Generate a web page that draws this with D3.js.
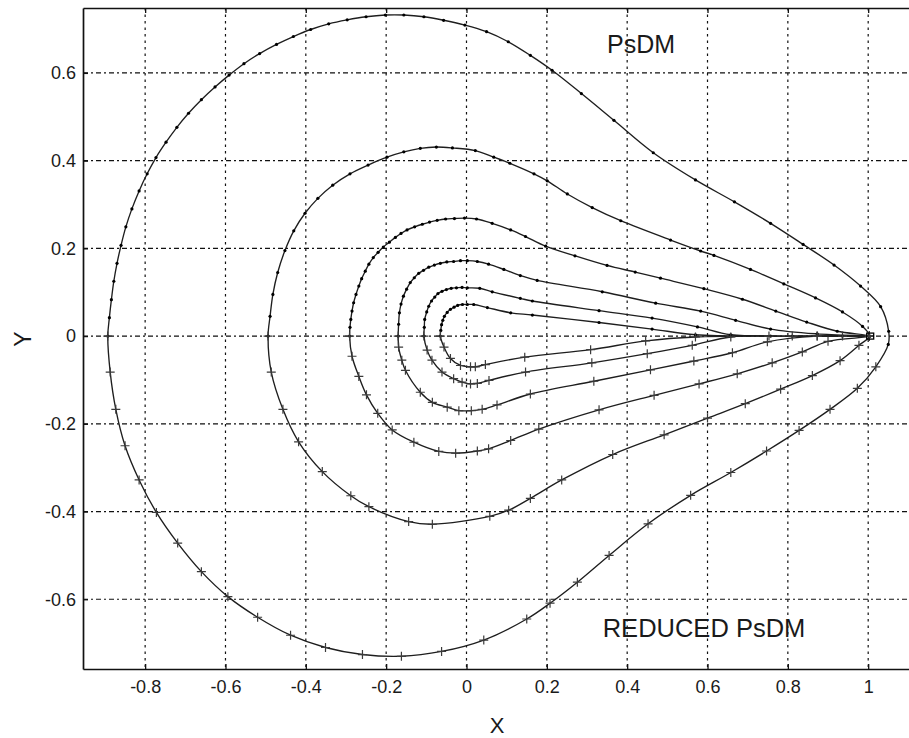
<!DOCTYPE html>
<html>
<head>
<meta charset="utf-8">
<script src="https://cdn.jsdelivr.net/npm/d3@7"></script>
<style>
  body { margin: 0; background: #fff; }
  svg { display: block; }
  text { font-family: "Liberation Sans", Arial, Helvetica, sans-serif; fill: #1a1a1a; }
</style>
</head>
<body>
<svg id="chart" width="909" height="738"></svg>
<script>
// Axis ticks
const xTicks = [-0.8, -0.6, -0.4, -0.2, 0, 0.2, 0.4, 0.6, 0.8, 1];
const yTicks = [-0.6, -0.4, -0.2, 0, 0.2, 0.4, 0.6];
const xTickLabels = ["-0.8", "-0.6", "-0.4", "-0.2", "0", "0.2", "0.4", "0.6", "0.8", "1"];
const yTickLabels = ["-0.6", "-0.4", "-0.2", "0", "0.2", "0.4", "0.6"];

// Upper halves: PsDM solution (dot markers), from the left crossing to the tip
const psdm1 = [[-0.893,0.000],[-0.889,0.042],[-0.884,0.083],[-0.878,0.125],[-0.870,0.166],[-0.860,0.207],[-0.848,0.249],[-0.833,0.290],[-0.815,0.331],[-0.795,0.370],[-0.773,0.407],[-0.748,0.442],[-0.721,0.476],[-0.692,0.508],[-0.660,0.539],[-0.626,0.568],[-0.591,0.595],[-0.554,0.621],[-0.515,0.644],[-0.473,0.665],[-0.431,0.683],[-0.388,0.699],[-0.343,0.712],[-0.297,0.721],[-0.250,0.728],[-0.202,0.732],[-0.156,0.732],[-0.106,0.728],[-0.057,0.720],[-0.004,0.709],[0.050,0.694],[0.104,0.671],[0.159,0.640],[0.213,0.606],[0.286,0.553],[0.367,0.492],[0.465,0.418],[0.570,0.356],[0.667,0.306],[0.757,0.257],[0.838,0.209],[0.915,0.162],[0.981,0.114],[1.031,0.067],[1.051,0.011],[1.050,-0.019]];
const psdm2 = [[-0.494,0.000],[-0.489,0.045],[-0.482,0.095],[-0.470,0.145],[-0.452,0.195],[-0.430,0.240],[-0.402,0.280],[-0.370,0.314],[-0.333,0.344],[-0.290,0.370],[-0.245,0.390],[-0.198,0.408],[-0.156,0.420],[-0.115,0.428],[-0.075,0.431],[-0.035,0.429],[0.022,0.423],[0.068,0.408],[0.108,0.394],[0.168,0.370],[0.201,0.354],[0.251,0.324],[0.313,0.293],[0.384,0.263],[0.508,0.219],[0.583,0.194],[0.616,0.184],[0.707,0.152],[0.790,0.119],[0.869,0.087],[0.936,0.055],[0.986,0.022],[1.003,0.000]];
const psdm3 = [[-0.291,0.000],[-0.290,0.020],[-0.288,0.038],[-0.285,0.057],[-0.281,0.076],[-0.275,0.095],[-0.268,0.114],[-0.261,0.131],[-0.252,0.148],[-0.243,0.164],[-0.232,0.179],[-0.220,0.191],[-0.207,0.203],[-0.192,0.214],[-0.177,0.225],[-0.163,0.234],[-0.148,0.242],[-0.129,0.249],[-0.110,0.255],[-0.092,0.260],[-0.073,0.264],[-0.052,0.267],[-0.030,0.268],[-0.005,0.269],[0.025,0.267],[0.064,0.257],[0.110,0.242],[0.147,0.227],[0.197,0.205],[0.270,0.183],[0.350,0.161],[0.420,0.146],[0.483,0.132],[0.591,0.108],[0.687,0.084],[0.770,0.057],[0.847,0.032],[0.923,0.011],[1.003,0.000]];
const psdm4 = [[-0.170,0.000],[-0.169,0.027],[-0.167,0.053],[-0.163,0.073],[-0.157,0.091],[-0.149,0.107],[-0.140,0.122],[-0.130,0.133],[-0.119,0.143],[-0.107,0.150],[-0.094,0.157],[-0.080,0.162],[-0.065,0.166],[-0.049,0.169],[-0.032,0.170],[-0.015,0.172],[0.002,0.172],[0.027,0.170],[0.055,0.164],[0.093,0.152],[0.134,0.138],[0.176,0.127],[0.338,0.101],[0.471,0.075],[0.583,0.057],[0.670,0.036],[0.757,0.016],[0.873,0.005],[1.003,0.000]];
const psdm5 = [[-0.106,0.000],[-0.105,0.020],[-0.104,0.038],[-0.099,0.055],[-0.094,0.068],[-0.087,0.080],[-0.079,0.089],[-0.071,0.097],[-0.061,0.102],[-0.050,0.106],[-0.038,0.109],[-0.025,0.110],[-0.011,0.111],[0.002,0.110],[0.033,0.109],[0.064,0.101],[0.134,0.086],[0.164,0.080],[0.330,0.058],[0.462,0.041],[0.575,0.021],[0.658,0.003],[0.811,0.000],[1.003,0.000]];
const psdm6 = [[-0.065,0.000],[-0.064,0.013],[-0.062,0.026],[-0.059,0.036],[-0.055,0.045],[-0.048,0.054],[-0.040,0.061],[-0.031,0.066],[-0.022,0.070],[-0.010,0.072],[0.002,0.072],[0.018,0.072],[0.052,0.065],[0.110,0.053],[0.164,0.048],[0.330,0.031],[0.462,0.016],[0.570,0.003],[0.757,0.000],[0.936,0.000],[1.003,0.000]];

// Lower halves: reduced PsDM solution (plus markers), from the left crossing to the tip
const reduced1 = [[-0.893,0.000],[-0.887,-0.082],[-0.873,-0.167],[-0.850,-0.250],[-0.815,-0.328],[-0.772,-0.402],[-0.719,-0.472],[-0.660,-0.537],[-0.594,-0.594],[-0.520,-0.641],[-0.438,-0.682],[-0.351,-0.710],[-0.259,-0.726],[-0.162,-0.730],[-0.062,-0.719],[0.043,-0.693],[0.150,-0.645],[0.208,-0.609],[0.276,-0.561],[0.355,-0.500],[0.452,-0.428],[0.558,-0.363],[0.658,-0.311],[0.747,-0.262],[0.828,-0.215],[0.905,-0.167],[0.973,-0.119],[1.019,-0.070]];
const reduced2 = [[-0.494,0.000],[-0.486,-0.082],[-0.457,-0.167],[-0.418,-0.241],[-0.359,-0.309],[-0.288,-0.364],[-0.243,-0.389],[-0.144,-0.423],[-0.085,-0.429],[0.058,-0.411],[0.105,-0.397],[0.159,-0.370],[0.237,-0.328],[0.364,-0.270],[0.492,-0.225],[0.600,-0.187],[0.694,-0.154],[0.782,-0.121],[0.861,-0.090],[0.930,-0.056],[0.977,-0.021],[1.003,0.000]];
const reduced3 = [[-0.291,0.000],[-0.285,-0.046],[-0.268,-0.092],[-0.249,-0.134],[-0.221,-0.176],[-0.185,-0.214],[-0.131,-0.242],[-0.069,-0.263],[-0.027,-0.267],[0.027,-0.262],[0.055,-0.257],[0.110,-0.238],[0.180,-0.212],[0.330,-0.168],[0.467,-0.135],[0.579,-0.109],[0.674,-0.086],[0.761,-0.061],[0.836,-0.036],[0.900,-0.012],[1.003,0.000]];
const reduced4 = [[-0.170,0.000],[-0.169,-0.025],[-0.161,-0.055],[-0.152,-0.078],[-0.115,-0.128],[-0.085,-0.151],[-0.048,-0.162],[-0.019,-0.170],[0.012,-0.170],[0.039,-0.167],[0.076,-0.157],[0.159,-0.132],[0.317,-0.103],[0.458,-0.077],[0.566,-0.057],[0.662,-0.038],[0.749,-0.013],[0.873,0.000],[1.003,0.000]];
const reduced5 = [[-0.106,0.000],[-0.098,-0.032],[-0.086,-0.055],[-0.061,-0.082],[-0.032,-0.097],[-0.011,-0.105],[0.010,-0.109],[0.027,-0.108],[0.056,-0.101],[0.147,-0.082],[0.312,-0.061],[0.450,-0.040],[0.562,-0.021],[0.658,-0.002],[0.811,0.000],[0.936,0.000],[1.003,0.000]];
const reduced6 = [[-0.065,0.000],[-0.056,-0.025],[-0.040,-0.051],[-0.015,-0.067],[0.010,-0.070],[0.022,-0.070],[0.047,-0.065],[0.145,-0.048],[0.309,-0.031],[0.446,-0.011],[0.570,-0.002],[0.753,0.000],[0.873,0.000],[1.003,0.000]];

// Common end point where the inner trajectories meet
const tipPoint = [1.005, 0.000];

const psdmCurves = [psdm1, psdm2, psdm3, psdm4, psdm5, psdm6];
const reducedCurves = [reduced1, reduced2, reduced3, reduced4, reduced5, reduced6];

const plot = { left: 83, top: 8, right: 909, bottom: 669 };

const x = d3.scaleLinear().domain([-0.9547, 1.1016]).range([plot.left, plot.right]);
const y = d3.scaleLinear().domain([-0.759, 0.748]).range([plot.bottom, plot.top]);

const svg = d3.select("#chart");

// Grid
const grid = svg.append("g").attr("class", "grid");
grid.selectAll("line.gx").data(xTicks).join("line")
  .attr("class", "gx")
  .attr("x1", d => x(d)).attr("x2", d => x(d))
  .attr("y1", plot.top).attr("y2", plot.bottom)
  .attr("stroke", "#111").attr("stroke-width", 1.2)
  .attr("stroke-dasharray", "2.5,4");
grid.selectAll("line.gy").data(yTicks).join("line")
  .attr("class", "gy")
  .attr("x1", plot.left).attr("x2", plot.right)
  .attr("y1", d => y(d)).attr("y2", d => y(d))
  .attr("stroke", "#111").attr("stroke-width", 1.2)
  .attr("stroke-dasharray", "5,3,2,3");

// Trajectories: each closed loop joins the upper and lower halves
const line = d3.line().x(d => x(d[0])).y(d => y(d[1])).curve(d3.curveCatmullRomClosed.alpha(0.5));
const loops = psdmCurves.map((up, i) => {
  const low = reducedCurves[i].slice(1).reverse();
  const pts = up.concat(low);
  return pts.filter((p, j) => j === 0 || p[0] !== pts[j - 1][0] || p[1] !== pts[j - 1][1]);
});
svg.append("g").selectAll("path").data(loops).join("path")
  .attr("d", line)
  .attr("fill", "none")
  .attr("stroke", "#1e1e1e")
  .attr("stroke-width", 1.35);

// Dot markers on the PsDM halves
const dots = svg.append("g");
psdmCurves.forEach(c => {
  dots.selectAll(null).data(c).join("circle")
    .attr("cx", d => x(d[0])).attr("cy", d => y(d[1]))
    .attr("r", 1.6).attr("fill", "#000");
});

// Plus markers on the reduced halves
const plus = svg.append("g").attr("stroke", "#3a3a3a").attr("stroke-width", 1.2);
const ps = 4.5;
reducedCurves.forEach(c => {
  plus.selectAll(null).data(c).join("path")
    .attr("d", d => `M${x(d[0]) - ps},${y(d[1])}h${2 * ps}M${x(d[0])},${y(d[1]) - ps}v${2 * ps}`);
});

// End point marker
svg.append("rect")
  .attr("x", x(tipPoint[0]) - 3.5).attr("y", y(tipPoint[1]) - 3)
  .attr("width", 7).attr("height", 6)
  .attr("fill", "none").attr("stroke", "#000").attr("stroke-width", 1.3);

// Axes
const fmtX = d => xTickLabels[xTicks.indexOf(d)];
const fmtY = d => yTickLabels[yTicks.indexOf(d)];

const gx = svg.append("g").attr("transform", `translate(0,${plot.bottom})`)
  .call(d3.axisBottom(x).tickValues(xTicks).tickFormat(fmtX).tickSizeInner(-5).tickSizeOuter(0).tickPadding(11));
const gxTop = svg.append("g").attr("transform", `translate(0,${plot.top})`)
  .call(d3.axisTop(x).tickValues(xTicks).tickFormat("").tickSizeInner(-5).tickSizeOuter(0));
const gy = svg.append("g").attr("transform", `translate(${plot.left},0)`)
  .call(d3.axisLeft(y).tickValues(yTicks).tickFormat(fmtY).tickSizeInner(-5).tickSizeOuter(0).tickPadding(7));

[gx, gxTop, gy].forEach(g => {
  g.select(".domain").attr("stroke", "#111").attr("stroke-width", 1.7);
  g.selectAll(".tick line").attr("stroke", "#111").attr("stroke-width", 1.3);
  g.selectAll(".tick text").attr("font-size", 18).attr("fill", "#1a1a1a")
    .style("font-family", '"Liberation Sans", Arial, sans-serif');
});

// Axis titles
svg.append("text").attr("x", 497).attr("y", 733)
  .attr("text-anchor", "middle").attr("font-size", 22).text("X");
svg.append("text").attr("transform", "translate(31,339) rotate(-90)")
  .attr("text-anchor", "middle").attr("font-size", 23).text("Y");

// Panel annotations
svg.append("text").attr("x", 641).attr("y", 53)
  .attr("text-anchor", "middle").attr("font-size", 25).text("PsDM");
svg.append("text").attr("x", 704).attr("y", 637)
  .attr("text-anchor", "middle").attr("font-size", 25.5).text("REDUCED PsDM");
</script>
</body>
</html>
